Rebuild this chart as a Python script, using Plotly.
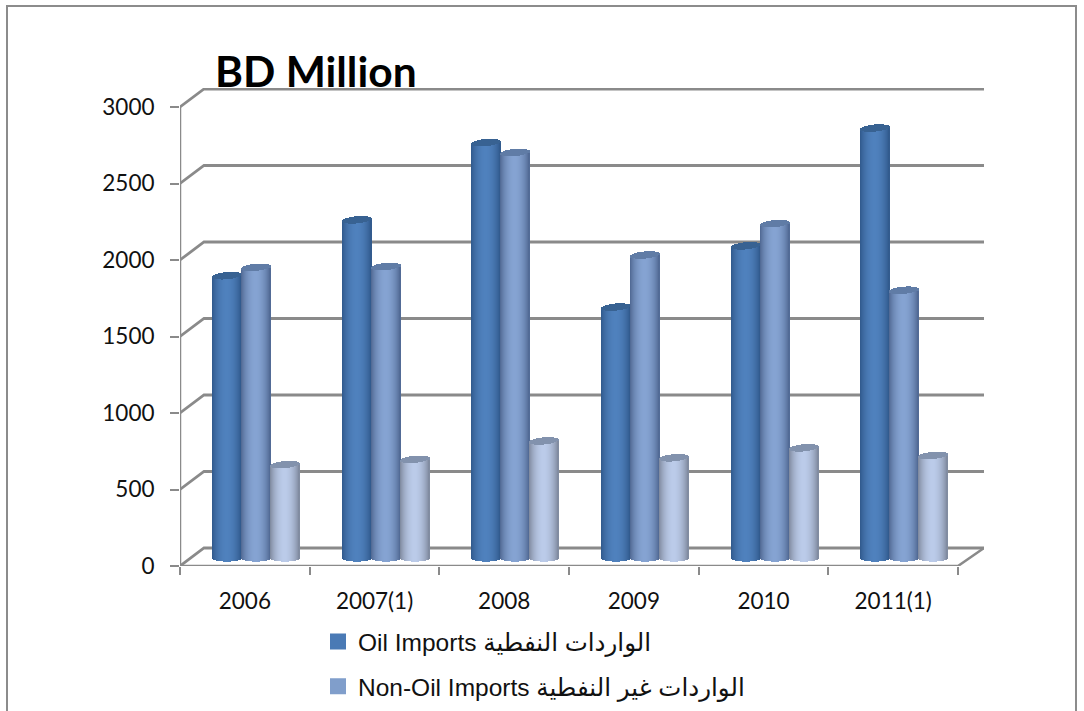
import math
import plotly.graph_objects as go

categories = ["2006", "2007(1)", "2008", "2009", "2010", "2011(1)"]
oil_imports = [1845, 2210, 2715, 1640, 2040, 2810]
non_oil_imports = [1900, 1905, 2650, 1980, 2185, 1750]
third_series = [610, 645, 765, 655, 720, 670]
y_ticks = [0, 500, 1000, 1500, 2000, 2500, 3000]
legend_oil = "Oil Imports الواردات النفطية"
legend_non_oil = "Non-Oil Imports الواردات غير النفطية"

W, H = 1084, 711
L, R, T, B = 180, 984, 88, 566          # plot area in pixels
Y3000 = 107
CAT_PX = (958 - 180) / 6
PX_PER_UNIT = (B - Y3000) / 3000
DX, DY = 24 / CAT_PX, 18 / PX_PER_UNIT   # depth of the box
x_lo = -0.5
x_hi = x_lo + (R - L) / CAT_PX
y_hi = (B - T) / PX_PER_UNIT
x_front = x_lo + 6
FLOOR = 8 / PX_PER_UNIT                  # bar base above the front edge
ELL = 3.6 / PX_PER_UNIT
TILT = 1.2 / PX_PER_UNIT
CYL_W = 29.5
STEP = 1.0


def lerp(a, b, t):
    return tuple(a[i] + (b[i] - a[i]) * t for i in range(3))


def col(c):
    return "rgb(%d,%d,%d)" % tuple(round(v) for v in c)


styles = [
    (oil_imports, -17.5, (46, 86, 136), (79, 129, 189), (56, 98, 146)),
    (non_oil_imports, 11.5, (76, 100, 142), (133, 163, 210), (96, 124, 166)),
    (third_series, 40.5, (122, 132, 152), (187, 203, 233), (130, 146, 173)),
]

fig = go.Figure()
n = int(CYL_W / STEP)
for values, off_px, edge, mid, cap in styles:
    for i in range(n):
        p = (i + 0.5) / n
        t = 2 * p - 1
        s = math.sqrt(max(0, 1 - t * t))
        g = min(1, max(0, math.sin(math.pi * p) ** 0.75))   # cylinder shading
        c = lerp(edge, mid, g)
        left = off_px - CYL_W / 2 + i * STEP
        lift = TILT * t
        fig.add_trace(go.Bar(
            x=categories,
            y=[v + lift for v in values],
            base=[FLOOR - ELL * s for _ in values],
            width=(STEP + 0.5) / CAT_PX, offset=left / CAT_PX,
            marker=dict(color=col(c), line=dict(width=0)),
            showlegend=False, hoverinfo="skip"))
        fig.add_trace(go.Bar(
            x=categories,
            y=[2 * ELL * s for _ in values],
            base=[FLOOR + v + lift - ELL * s for v in values],
            width=(STEP + 0.5) / CAT_PX, offset=left / CAT_PX,
            marker=dict(color=col(cap), line=dict(width=0)),
            showlegend=False, hoverinfo="skip"))

for name, colour in ((legend_oil, "#4a7ab5"), (legend_non_oil, "#809ecb")):
    fig.add_trace(go.Bar(x=[categories[0]], y=[None], name=name, legendgroup=name,
                         marker=dict(color=colour, line=dict(width=4, color=colour)), hoverinfo="skip"))

GRAY = "#8a8a8a"
shapes = []
for tick in y_ticks:
    shapes.append(dict(type="path", layer="below", xref="x", yref="y",
                       path=f"M{x_lo},{tick} L{x_lo + DX},{tick + DY} L{x_hi},{tick + DY}",
                       line=dict(color=GRAY, width=2.8)))
shapes.append(dict(type="line", layer="below", xref="x", yref="y", x0=x_lo, x1=x_lo, y0=0, y1=3000,
                   line=dict(color=GRAY, width=2.5)))
shapes.append(dict(type="path", layer="below", xref="x", yref="y",
                   path=f"M{x_lo},0 L{x_front},0 L{x_hi},{DY}",
                   line=dict(color=GRAY, width=2.5)))
# outer chart frame, runs off the bottom of the page
fx = lambda px: (px - L) / (R - L)
fy = lambda py: (B - py) / (B - T)
shapes.append(dict(type="path", xref="paper", yref="paper",
                   path=f"M{fx(7)},{fy(H + 5)} L{fx(7)},{fy(6)} L{fx(1076)},{fy(6)} L{fx(1076)},{fy(H + 5)}",
                   line=dict(color="#8c8c8c", width=2)))

fig.update_layout(
    width=W, height=H, autosize=False,
    margin=dict(l=L, r=W - R, t=T, b=H - B, pad=0, autoexpand=False),
    paper_bgcolor="white", plot_bgcolor="white",
    barmode="overlay", bargap=0,
    font=dict(family="Lato, DejaVu Sans", size=22.5, color="#111111"),
    title=dict(text="<b>BD Million</b>", font=dict(family="Lato", size=42.5, color="black"),
               x=215 / W, xanchor="left", xref="container",
               y=1 - 72 / H, yanchor="middle"),
    xaxis=dict(type="category", categoryorder="array", categoryarray=categories,
               range=[x_lo, x_hi], tickson="boundaries", showgrid=False, zeroline=False, showline=False,
               ticks="outside", ticklen=8, tickwidth=2, tickcolor=GRAY, tickfont=dict(size=22.5),
               ticklabelstandoff=19),
    yaxis=dict(range=[0, y_hi], tickmode="array", tickvals=y_ticks, showgrid=False, zeroline=False,
               showline=False, ticks="outside", ticklen=9, tickwidth=2, tickcolor=GRAY, tickfont=dict(size=22.5),
               ticklabelstandoff=11),
    legend=dict(x=fx(318), y=fy(619), xanchor="left", yanchor="top", tracegroupgap=10, traceorder="grouped",
                bgcolor="rgba(0,0,0,0)",
                font=dict(family="Liberation Sans, DejaVu Sans", size=24.5, color="#111111")),
    shapes=shapes,
)

fig.write_html("out.html", config={"displayModeBar": False},
               post_script="document.body.style.margin='0';document.body.style.overflow='hidden';")
